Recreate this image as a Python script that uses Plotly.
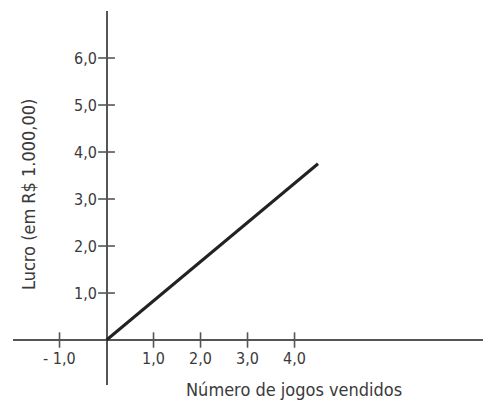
import plotly.graph_objects as go

# Data
line_x = [0.0, 4.5]
line_y = [0.0, 3.75]
x_ticks = [-1.0, 1.0, 2.0, 3.0, 4.0]
x_tick_labels = ["- 1,0", "1,0", "2,0", "3,0", "4,0"]
y_ticks = [1.0, 2.0, 3.0, 4.0, 5.0, 6.0]
y_tick_labels = ["1,0", "2,0", "3,0", "4,0", "5,0", "6,0"]
x_title = "Número de jogos vendidos"
y_title = "Lucro (em R$ 1.000,00)"

FONT = "Liberation Sans Narrow, DejaVu Sans Condensed, Arial Narrow, sans-serif"
AXIS_COLOR = "#555555"
TEXT_COLOR = "#3a3a3a"

fig = go.Figure()

# main line
fig.add_trace(go.Scatter(x=line_x, y=line_y, mode="lines",
                         line=dict(color="#222222", width=3), hoverinfo="skip"))

# tick marks on axes crossing at zero
fig.add_trace(go.Scatter(x=x_ticks, y=[0] * len(x_ticks), mode="markers",
                         marker=dict(symbol="line-ns", size=11,
                                     line=dict(color=AXIS_COLOR, width=1.6)),
                         hoverinfo="skip"))
fig.add_trace(go.Scatter(x=[0] * len(y_ticks), y=y_ticks, mode="markers",
                         marker=dict(symbol="line-ew", size=12,
                                     line=dict(color=AXIS_COLOR, width=1.6)),
                         hoverinfo="skip"))

annotations = []
for xv, lab in zip(x_ticks, x_tick_labels):
    annotations.append(dict(x=xv, y=0, xref="x", yref="y", text=lab, showarrow=False,
                            xanchor="center", yanchor="top", yshift=-7,
                            font=dict(family=FONT, size=16, color=TEXT_COLOR)))
for yv, lab in zip(y_ticks, y_tick_labels):
    annotations.append(dict(x=0, y=yv, xref="x", yref="y", text=lab, showarrow=False,
                            xanchor="right", yanchor="middle", xshift=-8,
                            font=dict(family=FONT, size=16, color=TEXT_COLOR)))
annotations.append(dict(x=0.598, y=-0.013, xref="paper", yref="paper", text=x_title,
                        showarrow=False, xanchor="center", yanchor="middle",
                        font=dict(family=FONT, size=18, color=TEXT_COLOR)))
annotations.append(dict(x=0.032, y=0.508, xref="paper", yref="paper", text=y_title,
                        showarrow=False, xanchor="center", yanchor="middle", textangle=-90,
                        font=dict(family=FONT, size=18, color=TEXT_COLOR)))

fig.update_layout(
    width=486, height=403,
    margin=dict(l=13, r=3, t=11, b=18),
    paper_bgcolor="white", plot_bgcolor="white",
    showlegend=False,
    annotations=annotations,
    xaxis=dict(range=[-1.99, 8.01], showgrid=False, showticklabels=False, ticks="",
               zeroline=True, zerolinecolor=AXIS_COLOR, zerolinewidth=1.8, showline=False,
               fixedrange=True),
    yaxis=dict(range=[-0.957, 7.0], showgrid=False, showticklabels=False, ticks="",
               zeroline=True, zerolinecolor=AXIS_COLOR, zerolinewidth=1.8, showline=False,
               fixedrange=True),
)

fig.write_html("out.html", config={"displayModeBar": False},
               post_script="document.body.style.margin='0';document.body.style.overflow='hidden';")
